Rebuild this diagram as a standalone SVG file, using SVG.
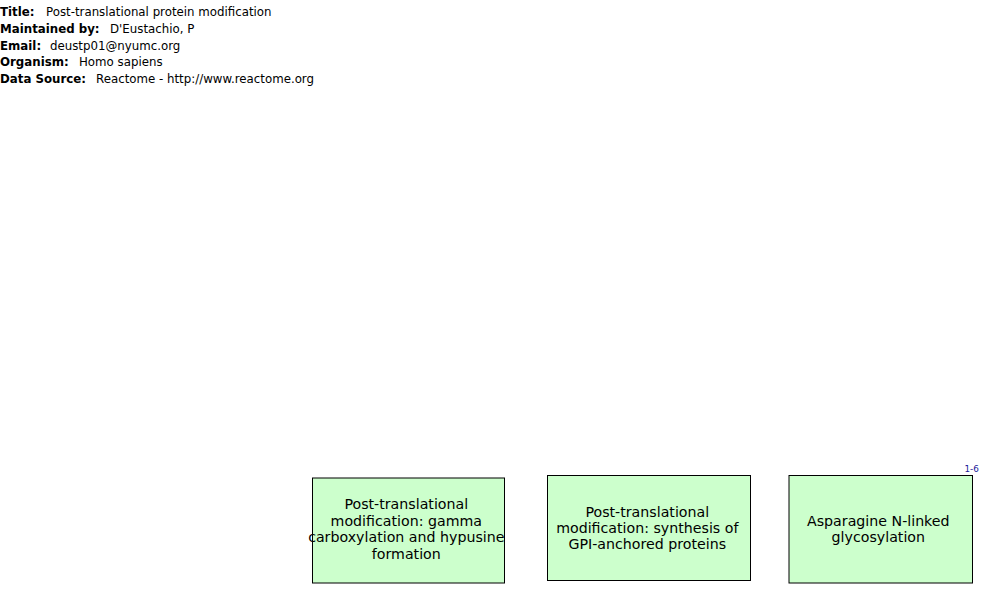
<svg xmlns="http://www.w3.org/2000/svg" width="1000" height="600" viewBox="0 0 1000 600">
<style>
.hdr{font-family:"DejaVu Sans",sans-serif;font-size:11.8px;fill:#000}
.b{font-weight:bold}
.node rect{fill:#ccffcc;stroke:#000;stroke-width:1}
.node text.t{font-family:"DejaVu Sans",sans-serif;font-size:14.2px;fill:#000;text-anchor:middle}
.node text.lbl{font-family:"DejaVu Sans",sans-serif;font-size:8.8px;fill:#1a1a99;text-anchor:start}
</style>
<rect width="1000" height="600" fill="#fff"/>
<g id="header">
<text class="hdr b" x="0" y="16">Title:</text><text class="hdr" x="46" y="16">Post-translational protein modification</text>
<text class="hdr b" x="0" y="33">Maintained by:</text><text class="hdr" x="110" y="33">D'Eustachio, P</text>
<text class="hdr b" x="0" y="50">Email:</text><text class="hdr" x="50" y="50">deustp01@nyumc.org</text>
<text class="hdr b" x="0" y="66">Organism:</text><text class="hdr" x="79" y="66">Homo sapiens</text>
<text class="hdr b" x="0" y="83">Data Source:</text><text class="hdr" x="96" y="83">Reactome - http://www.reactome.org</text>
</g>
<g id="connectors"></g>
<g id="node-gamma" class="node">
<rect x="312.5" y="478" width="192" height="105"/>
<text class="t" x="406.3" y="509">Post-translational</text>
<text class="t" x="406.3" y="525.5">modification: gamma</text>
<text class="t" x="406.3" y="542">carboxylation and hypusine</text>
<text class="t" x="406.3" y="558.5">formation</text>
</g>
<g id="node-gpi" class="node">
<rect x="547.5" y="475.5" width="203" height="105"/>
<text class="t" x="647.3" y="517">Post-translational</text>
<text class="t" x="647.3" y="533">modification: synthesis of</text>
<text class="t" x="647.3" y="549">GPI-anchored proteins</text>
</g>
<g id="node-asn" class="node">
<rect x="789" y="475.5" width="183.5" height="107.5"/>
<text class="t" x="878.3" y="526">Asparagine N-linked</text>
<text class="t" x="878.3" y="542">glycosylation</text>
<text class="lbl" x="964.5" y="471.5">1-6</text>
</g>
</svg>
